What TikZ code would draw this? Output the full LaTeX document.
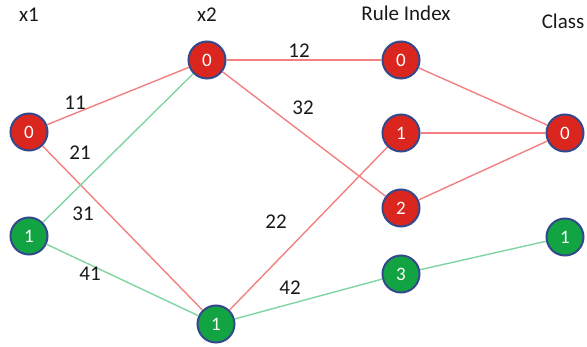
\documentclass[tikz,border=0pt]{standalone}
\usepackage{fontspec}
\setmainfont{Carlito}
\definecolor{nodered}{RGB}{218,38,30}
\definecolor{nodegreen}{RGB}{18,164,66}
\definecolor{rimblue}{RGB}{52,72,140}
\definecolor{edgered}{RGB}{242,128,128}
\definecolor{edgegreen}{RGB}{128,212,162}
\begin{document}
\begin{tikzpicture}[x=1pt,y=-1pt,
  unit/.style={circle,minimum size=37pt,inner sep=0pt,draw=rimblue,line width=2pt,
    text=white,font=\fontsize{19}{22}\selectfont},
  redunit/.style={unit,fill=nodered},
  greenunit/.style={unit,fill=nodegreen},
  redlink/.style={draw=edgered,line width=1.4pt},
  greenlink/.style={draw=edgegreen,line width=1.4pt},
  head/.style={text=black!90,anchor=center,font=\fontsize{21}{24}\selectfont},
  weight/.style={text=black!90,anchor=center,font=\fontsize{21}{24}\selectfont}]
\useasboundingbox (0,0) rectangle (587,347);
% column headings
\node[head] (hx1) at (29,15) {x1};
\node[head] (hx2) at (207,15) {x2};
\node[head] (hrule) at (406,13) {Rule Index};
\node[head] (hclass) at (563,21) {Class};
% units
\node[redunit] (a0) at (29,132) {0};
\node[greenunit] (a1) at (29,236) {1};
\node[redunit] (b0) at (207,60) {0};
\node[greenunit] (b1) at (216,324) {1};
\node[redunit] (r0) at (401,60) {0};
\node[redunit] (r1) at (401,133) {1};
\node[redunit] (r2) at (401,208) {2};
\node[greenunit] (r3) at (401,274) {3};
\node[redunit] (c0) at (565,133) {0};
\node[greenunit] (c1) at (565,237) {1};
% links
\draw[redlink] (a0) -- (b0);
\draw[redlink] (a0) -- (b1);
\draw[greenlink] (a1) -- (b0);
\draw[greenlink] (a1) -- (b1);
\draw[redlink] (b0) -- (r0);
\draw[redlink] (b0) -- (r2);
\draw[redlink] (b1) -- (r1);
\draw[greenlink] (b1) -- (r3);
\draw[redlink] (r0) -- (c0);
\draw[redlink] (r1) -- (c0);
\draw[redlink] (r2) -- (c0);
\draw[greenlink] (r3) -- (c1);
% link weights
\node[weight] (w11) at (75,103) {11};
\node[weight] (w21) at (80,153) {21};
\node[weight] (w31) at (83,214) {31};
\node[weight] (w41) at (90,274) {41};
\node[weight] (w12) at (299,51) {12};
\node[weight] (w32) at (303,108) {32};
\node[weight] (w22) at (276,222) {22};
\node[weight] (w42) at (290,288) {42};
\end{tikzpicture}
\end{document}
